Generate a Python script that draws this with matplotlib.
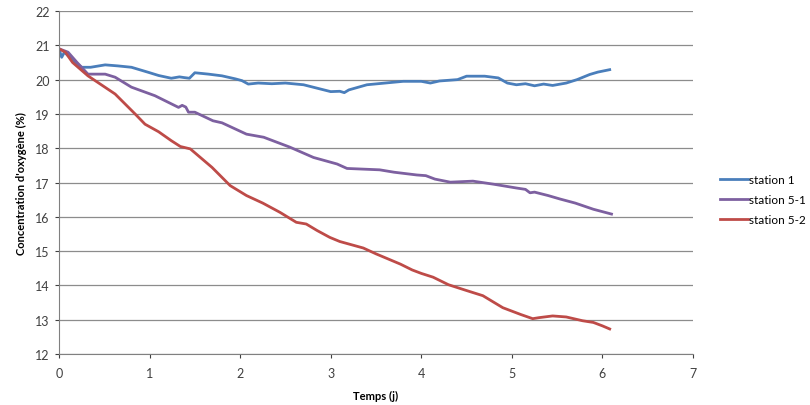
import matplotlib
matplotlib.use("Agg")
import matplotlib.pyplot as plt

plt.rcParams['font.family'] = ['Lato', 'DejaVu Sans']

# station 1 (blue)
t1 = [0, 0.03, 0.06, 0.1, 0.18, 0.25, 0.35, 0.51, 0.65, 0.8, 0.99, 1.1, 1.24, 1.33, 1.38,
      1.44, 1.5, 1.65, 1.8, 1.95, 2.02, 2.09, 2.2, 2.35, 2.5, 2.7, 2.85, 3.0, 3.1, 3.15,
      3.2, 3.4, 3.6, 3.8, 4.0, 4.1, 4.2, 4.4, 4.5, 4.7, 4.85, 4.95, 5.05, 5.15, 5.25, 5.35,
      5.45, 5.6, 5.72, 5.86, 5.95, 6.08]
s1 = [20.9, 20.65, 20.8, 20.7, 20.5, 20.36, 20.36, 20.43, 20.4, 20.36, 20.21, 20.12, 20.04,
      20.08, 20.06, 20.04, 20.2, 20.16, 20.11, 20.02, 19.97, 19.87, 19.9, 19.88, 19.9, 19.85,
      19.75, 19.65, 19.66, 19.62, 19.7, 19.85, 19.9, 19.95, 19.95, 19.9, 19.96, 20.0, 20.1,
      20.1, 20.05, 19.9, 19.85, 19.88, 19.82, 19.87, 19.83, 19.9, 20.0, 20.15, 20.22, 20.29]

# station 5-1 (purple)
t2 = [0, 0.05, 0.1, 0.2, 0.32, 0.51, 0.62, 0.8, 1.06, 1.32, 1.36, 1.4, 1.43, 1.5, 1.7,
      1.8, 2.07, 2.26, 2.55, 2.81, 3.07, 3.18, 3.54, 3.7, 3.95, 4.05, 4.15, 4.32, 4.57,
      4.8, 5.05, 5.15, 5.2, 5.25, 5.4, 5.53, 5.7, 5.9, 6.1]
s2 = [20.9, 20.85, 20.8, 20.5, 20.16, 20.16, 20.07, 19.78, 19.53, 19.19, 19.25, 19.2, 19.05,
      19.05, 18.8, 18.74, 18.41, 18.32, 18.03, 17.73, 17.54, 17.41, 17.37, 17.3, 17.22, 17.2,
      17.1, 17.01, 17.04, 16.95, 16.84, 16.8, 16.7, 16.72, 16.62, 16.52, 16.4, 16.22, 16.08]

# station 5-2 (red)
t3 = [0, 0.07, 0.15, 0.32, 0.62, 0.84, 0.95, 1.1, 1.24, 1.34, 1.45, 1.69, 1.89, 2.07, 2.25,
      2.44, 2.62, 2.73, 2.85, 2.99, 3.1, 3.36, 3.5, 3.77, 3.9, 4.0, 4.13, 4.3, 4.5, 4.68,
      4.9, 4.98, 5.1, 5.23, 5.3, 5.45, 5.6, 5.78, 5.9, 6.0, 6.08]
s3 = [20.9, 20.8, 20.5, 20.11, 19.58, 19.0, 18.7, 18.48, 18.22, 18.05, 17.98, 17.44, 16.91,
      16.62, 16.4, 16.13, 15.84, 15.79, 15.6, 15.4, 15.28, 15.09, 14.92, 14.62, 14.45, 14.35,
      14.24, 14.02, 13.85, 13.7, 13.35, 13.27, 13.15, 13.03, 13.06, 13.11, 13.08, 12.97,
      12.92, 12.82, 12.73]

names = ['station 1', 'station 5-1', 'station 5-2']
colors = ['#4A7EBB', '#7D60A0', '#BE4B48']

fig = plt.figure(figsize=(8.1, 4.06), dpi=100)
ax = fig.add_axes([0.0728, 0.1256, 0.7828, 0.8448])

for t, s, name, c in zip([t1, t2, t3], [s1, s2, s3], names, colors):
    ax.plot(t, s, color=c, lw=2, label=name)

ax.set_xlim(0, 7)
ax.set_ylim(12, 22)
ax.set_xticks(range(0, 8))
ax.set_yticks(range(12, 23))
ax.yaxis.grid(True, color='#8c8c8c', lw=0.9)
ax.set_axisbelow(True)
for side in ['top', 'right']:
    ax.spines[side].set_visible(False)
for side in ['left', 'bottom']:
    ax.spines[side].set_color('#808080')
ax.tick_params(axis='both', labelsize=9, colors='#404040', length=3, direction='out')
ax.tick_params(axis='x', pad=6)
ax.set_xlabel('Temps (j)', fontsize=8, fontweight='bold', labelpad=8)
ax.set_ylabel("Concentration d'oxygène (%)", fontsize=8, fontweight='bold', labelpad=6)

ax.legend(loc='center left', bbox_to_anchor=(1.025, 0.45), frameon=False, fontsize=8.5,
          handlelength=2.4, handletextpad=0.1, labelspacing=0.75)

fig.savefig('out.png', dpi=100)
